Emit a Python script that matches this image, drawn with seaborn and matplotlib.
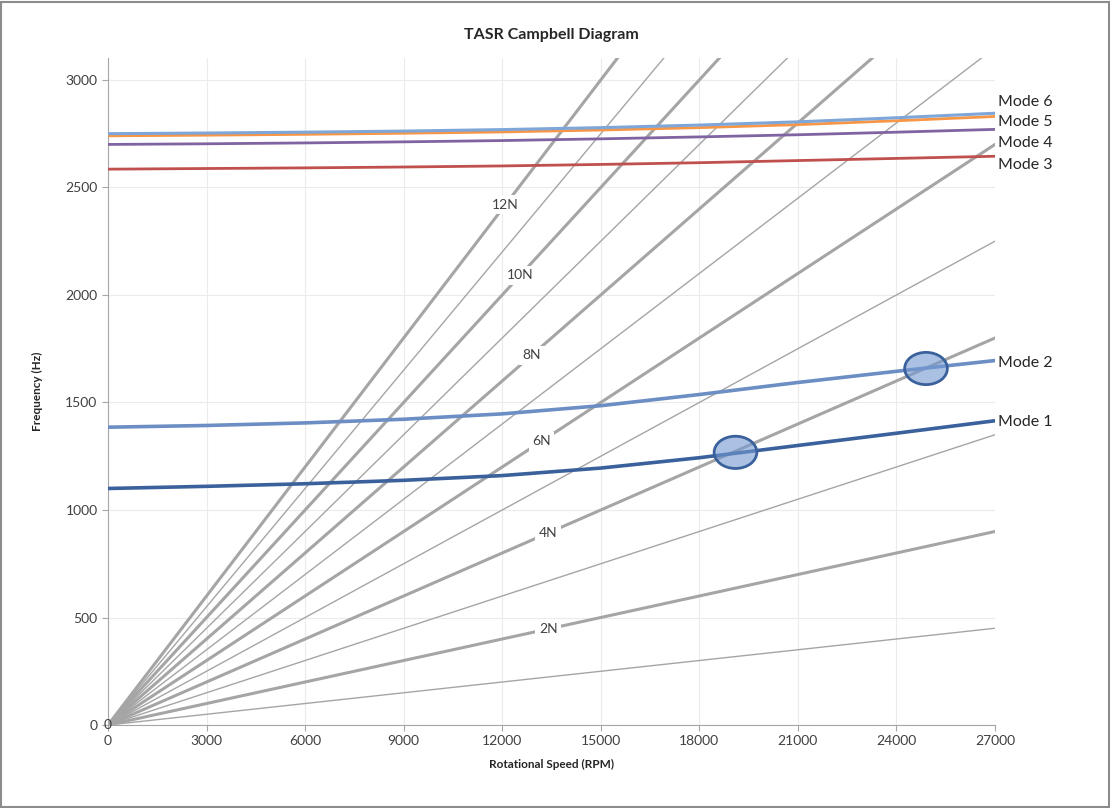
import matplotlib
matplotlib.use('Agg')
import seaborn as sns
import matplotlib.pyplot as plt
import pandas as pd
from matplotlib.patches import Ellipse, Rectangle

# rotor natural frequencies (Hz) vs speed (RPM)
rpm_pts = [0, 3000, 6000, 9000, 12000, 15000, 18000, 21000, 24000, 27000]
mode1 = [1100, 1110, 1122, 1138, 1160, 1195, 1243, 1300, 1357, 1415]
mode2 = [1385, 1393, 1405, 1422, 1447, 1485, 1537, 1593, 1645, 1695]
mode3 = [2585, 2588, 2591, 2595, 2600, 2607, 2615, 2625, 2635, 2645]
mode4 = [2700, 2703, 2707, 2712, 2718, 2726, 2735, 2745, 2757, 2770]
mode5 = [2740, 2743, 2747, 2752, 2758, 2767, 2778, 2792, 2810, 2830]
mode6 = [2750, 2753, 2757, 2762, 2769, 2778, 2790, 2805, 2824, 2845]
mode_names = ['Mode 1', 'Mode 2', 'Mode 3', 'Mode 4', 'Mode 5', 'Mode 6']

# engine order lines: start at origin, frequency reached at 27000 RPM
order_names = ['1N', '2N', '3N', '4N', '5N', '6N', '7N', '8N', '9N', '10N', '11N', '12N']
order_rpm = [0, 27000]
order_end_hz = [450, 900, 1350, 1800, 2250, 2700, 3150, 3600, 4050, 4500, 4950, 5400]

# crossing points marked with ellipses
cross_rpm = [19100, 24900]
cross_hz = [1268, 1658]

modes = pd.DataFrame({'rpm': rpm_pts * 6,
                      'hz': mode1 + mode2 + mode3 + mode4 + mode5 + mode6,
                      'mode': sum([[m] * len(rpm_pts) for m in mode_names], [])})

sns.set_style('white')
plt.rcParams['font.family'] = ['Lato', 'DejaVu Sans']

fig = plt.figure(figsize=(11.11, 8.08), dpi=100)
ax = fig.add_axes([0.0972, 0.1027, 0.7984, 0.825])

# engine order lines, even orders thicker
for i, (name, end) in enumerate(zip(order_names, order_end_hz)):
    lw = 2.2 if (i + 1) % 2 == 0 else 1.0
    sns.lineplot(x=order_rpm, y=[0, end], color='#a5a5a5', lw=lw, ax=ax, zorder=2)

# labels on even order lines
label_rpm = {'2N': 13400, '4N': 13400, '6N': 13200, '8N': 12900, '10N': 12550, '12N': 12100}
for name, end in zip(order_names, order_end_hz):
    if name in label_rpm:
        r = label_rpm[name]
        ax.text(r, end * r / 27000, name, ha='center', va='center', fontsize=10,
                color='#404040', zorder=3,
                bbox=dict(facecolor='white', edgecolor='none', pad=2.5))

mode_colors = {'Mode 1': '#3b619c', 'Mode 2': '#6c8ec4', 'Mode 3': '#c0504d',
               'Mode 4': '#8064a2', 'Mode 5': '#f79646', 'Mode 6': '#7ea6d8'}
mode_lw = {'Mode 1': 2.6, 'Mode 2': 2.6, 'Mode 3': 2.0, 'Mode 4': 2.0, 'Mode 5': 2.0, 'Mode 6': 2.2}
for name in mode_names:
    d = modes[modes['mode'] == name]
    sns.lineplot(data=d, x='rpm', y='hz', color=mode_colors[name], lw=mode_lw[name],
                 ax=ax, zorder=4)

# mode labels at the right end
label_dy = {'Mode 1': -1, 'Mode 2': -2, 'Mode 3': -6, 'Mode 4': -10, 'Mode 5': -4, 'Mode 6': 8}
for name in mode_names:
    d = modes[modes['mode'] == name]
    ax.annotate(name, (d['rpm'].iloc[-1], d['hz'].iloc[-1]), xytext=(2, label_dy[name]),
                textcoords='offset points', ha='left', va='center', fontsize=11.5,
                color='#262626', annotation_clip=False)

for r, h in zip(cross_rpm, cross_hz):
    ax.add_patch(Ellipse((r, h), width=1300, height=150, facecolor=(0.45, 0.6, 0.82, 0.6),
                         edgecolor='#3b619c', lw=2, zorder=5))

ax.text(0, 0, '0', ha='center', va='center', fontsize=10, color='#404040')

ax.set_xlim(0, 27000)
ax.set_ylim(0, 3100)
ax.set_xticks(range(0, 27001, 3000))
ax.set_yticks(range(0, 3001, 500))
ax.grid(True, color='#ebebeb', lw=0.8, zorder=0)
ax.set_axisbelow(True)
for s in ['top', 'right']:
    ax.spines[s].set_visible(False)
for s in ['left', 'bottom']:
    ax.spines[s].set_color('#a6a6a6')
ax.tick_params(axis='both', colors='#a6a6a6', labelcolor='#404040', labelsize=10,
               length=4, direction='out', left=True, bottom=True)
ax.set_xlabel('Rotational Speed (RPM)', fontsize=8.5, fontweight='bold', color='#262626', labelpad=8)
ax.set_ylabel('Frequency (Hz)', fontsize=8.5, fontweight='bold', color='#262626', labelpad=16)
ax.set_title('TASR Campbell Diagram', fontsize=11.5, fontweight='bold', color='#262626', pad=14)

fig.patches.append(Rectangle((0.001, 0.001), 0.997, 0.996, transform=fig.transFigure,
                             fill=False, edgecolor='#8c8c8c', lw=1.5))

fig.savefig('out.png', dpi=100)
